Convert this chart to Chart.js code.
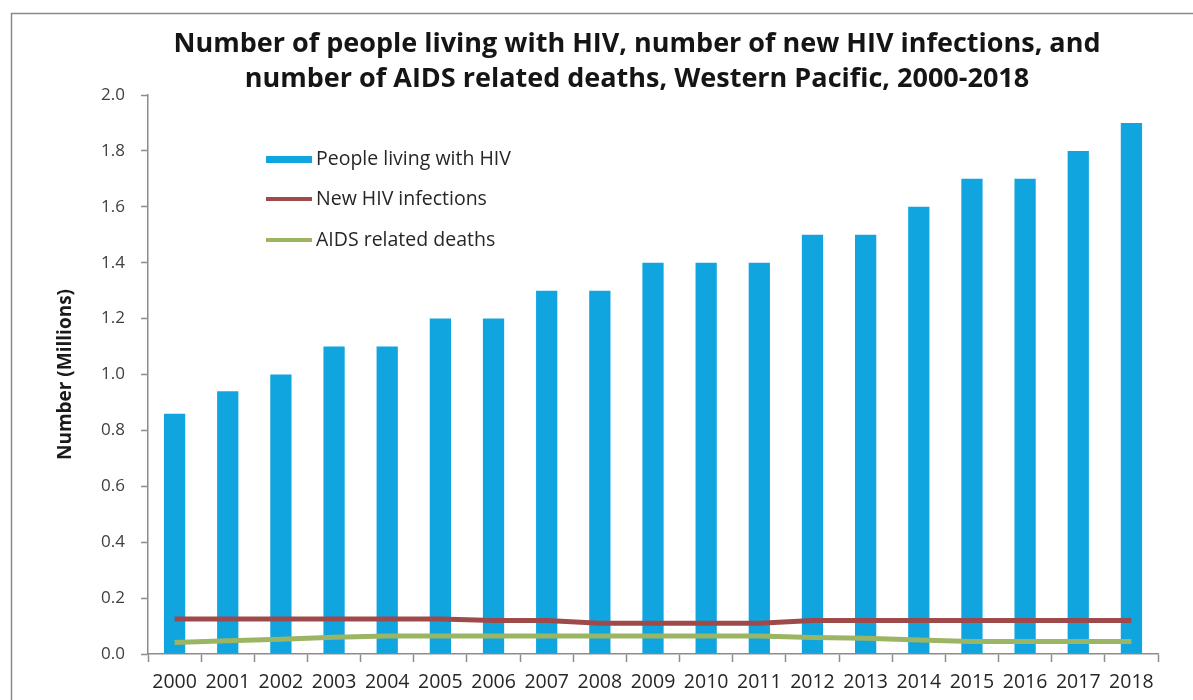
<!DOCTYPE html>
<html>
<head>
<meta charset="utf-8">
<script src="https://cdn.jsdelivr.net/npm/chart.js@4.4.1/dist/chart.umd.min.js"></script>
<style>
  html, body { margin: 0; padding: 0; background: #ffffff; }
  #wrap { width: 1193px; height: 700px; position: relative; }
</style>
</head>
<body>
<div id="wrap"><canvas id="c" width="1193" height="700"></canvas></div>
<script>
const titleLines = [
  'Number of people living with HIV, number of new HIV infections, and',
  'number of AIDS related deaths, Western Pacific, 2000-2018'
];
const yAxisTitle = 'Number (Millions)';
const years = ['2000','2001','2002','2003','2004','2005','2006','2007','2008','2009',
               '2010','2011','2012','2013','2014','2015','2016','2017','2018'];
const seriesNames = ['People living with HIV', 'New HIV infections', 'AIDS related deaths'];
const peopleLiving = [0.86, 0.94, 1.0, 1.1, 1.1, 1.2, 1.2, 1.3, 1.3, 1.4,
                      1.4, 1.4, 1.5, 1.5, 1.6, 1.7, 1.7, 1.8, 1.9];
const newInfections = [0.125, 0.125, 0.125, 0.125, 0.125, 0.125, 0.12, 0.12, 0.11, 0.11,
                       0.11, 0.11, 0.12, 0.12, 0.12, 0.12, 0.12, 0.12, 0.12];
const aidsDeaths = [0.041, 0.047, 0.053, 0.06, 0.064, 0.064, 0.064, 0.064, 0.064, 0.064,
                    0.064, 0.064, 0.059, 0.056, 0.05, 0.045, 0.045, 0.045, 0.045];
const yTicks = [0, 0.2, 0.4, 0.6, 0.8, 1.0, 1.2, 1.4, 1.6, 1.8, 2.0];

const BLUE = '#11A5E0', RED = '#9E4A4A', GREEN = '#9BB565', AXIS = '#8c8c8c';
const FONT = '"Open Sans"';

const framePlugin = {
  id: 'frame',
  beforeDraw(chart) {
    const ctx = chart.ctx;
    ctx.save();
    ctx.fillStyle = '#ffffff';
    ctx.fillRect(0, 0, chart.width, chart.height);
    ctx.strokeStyle = '#8a8a8a';
    ctx.lineWidth = 1.5;
    ctx.strokeRect(11.5, 13.5, chart.width + 20, chart.height + 20);
    ctx.restore();
  }
};

const titlePlugin = {
  id: 'customTitle',
  afterDraw(chart) {
    const ctx = chart.ctx;
    ctx.save();
    ctx.font = 'bold 27px ' + FONT;
    ctx.fillStyle = '#151515';
    ctx.textAlign = 'center';
    ctx.textBaseline = 'middle';
    titleLines.forEach((t, i) => ctx.fillText(t, 637, 44 + i * 35));
    ctx.restore();
  }
};

const legendPlugin = {
  id: 'customLegend',
  afterDatasetsDraw(chart) {
    const ctx = chart.ctx;
    const x0 = 266, w = 46;
    const ys = [159.5, 199, 240];
    ctx.save();
    ctx.font = '19.5px ' + FONT;
    ctx.textBaseline = 'middle';
    ctx.textAlign = 'left';
    chart.data.datasets.forEach(ds => {
      const i = seriesNames.indexOf(ds.label);
      const y = ys[i];
      if (ds.type === 'bar') {
        ctx.fillStyle = ds.backgroundColor;
        ctx.fillRect(x0, y - 3.5, w, 7);
      } else {
        ctx.strokeStyle = ds.borderColor;
        ctx.lineWidth = 4;
        ctx.beginPath();
        ctx.moveTo(x0, y);
        ctx.lineTo(x0 + w, y);
        ctx.stroke();
      }
      ctx.fillStyle = '#262626';
      ctx.fillText(ds.label, x0 + w + 4, y);
    });
    ctx.restore();
  }
};

new Chart(document.getElementById('c'), {
  data: {
    labels: years,
    datasets: [
      { type: 'line', label: seriesNames[1], data: newInfections, borderColor: RED,
        backgroundColor: RED, borderWidth: 5, pointRadius: 0, tension: 0, order: 0 },
      { type: 'line', label: seriesNames[2], data: aidsDeaths, borderColor: GREEN,
        backgroundColor: GREEN, borderWidth: 5, pointRadius: 0, tension: 0, order: 1 },
      { type: 'bar', label: seriesNames[0], data: peopleLiving, backgroundColor: BLUE,
        barPercentage: 0.4, categoryPercentage: 1.0, order: 2 }
    ]
  },
  options: {
    responsive: false,
    animation: false,
    devicePixelRatio: 1,
    layout: { padding: { left: 0, right: 35, top: 95, bottom: 0 } },
    plugins: {
      legend: { display: false },
      title: { display: false },
      tooltip: { enabled: false }
    },
    scales: {
      x: {
        type: 'category',
        afterFit(scale) { scale.height = 46; },
        grid: { display: true, drawOnChartArea: false, offset: true, tickLength: 8,
                tickColor: AXIS, tickWidth: 1.5 },
        border: { color: AXIS, width: 1.5 },
        ticks: { font: { family: FONT, size: 19.5 }, color: '#262626', padding: 9,
                 maxRotation: 0, autoSkip: false }
      },
      y: {
        type: 'linear',
        min: 0, max: 2,
        afterFit(scale) { scale.width = 148; },
        afterBuildTicks(scale) { scale.ticks = yTicks.map(v => ({ value: v })); },
        grid: { display: true, drawOnChartArea: false, tickLength: 7,
                tickColor: AXIS, tickWidth: 1.5 },
        border: { color: AXIS, width: 1.5 },
        ticks: { font: { family: FONT, size: 17 }, color: '#404040', padding: 16,
                 callback: v => Number(v).toFixed(1) },
        title: { display: true, text: yAxisTitle, font: { family: FONT, size: 19, weight: 'bold' },
                 color: '#1a1a1a', padding: { top: 54, bottom: 0 } }
      }
    }
  },
  plugins: [framePlugin, titlePlugin, legendPlugin]
});
</script>
</body>
</html>
